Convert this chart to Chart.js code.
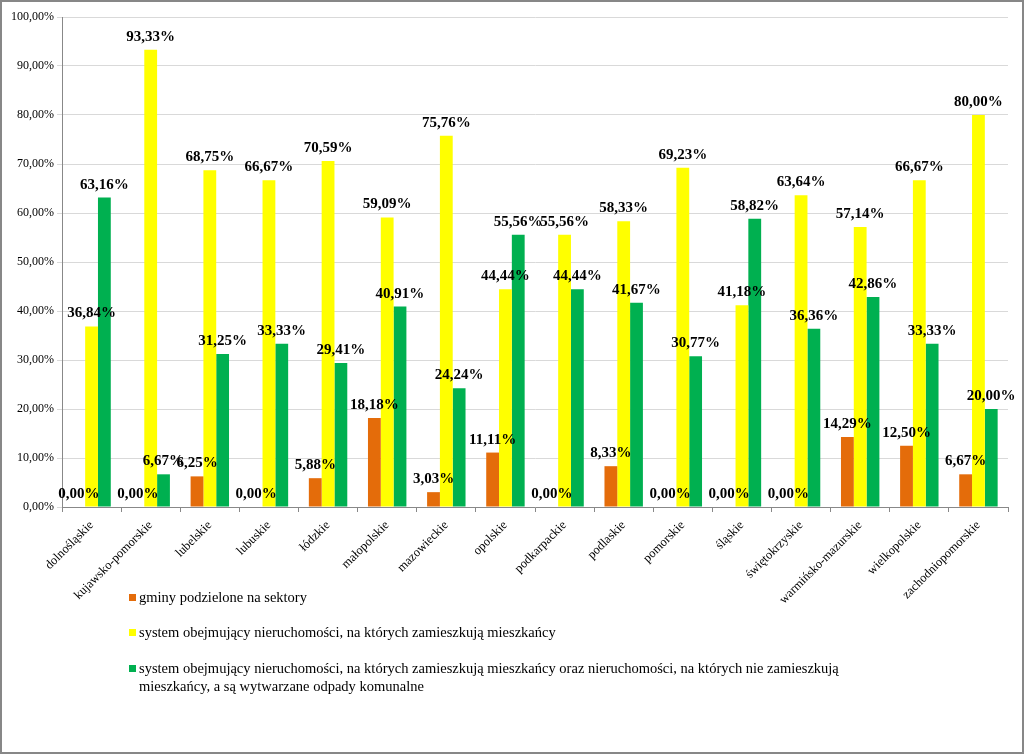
<!DOCTYPE html>
<html>
<head>
<meta charset="utf-8">
<script src="https://cdn.jsdelivr.net/npm/chart.js@4"></script>
<style>
  html, body { margin: 0; padding: 0; background: #fff; }
  #wrap { position: relative; width: 1024px; height: 754px; }
  canvas { position: absolute; left: 0; top: 0; }
  #legend { position: absolute; left: 129px; top: 0; width: 760px; font-family: "Liberation Serif", "Times New Roman", serif; font-size: 14.5px; color: #000; }
  .item { position: absolute; left: 0; width: 760px; line-height: 18px; }
  .mk { position: absolute; left: 0; width: 7px; height: 7px; top: 6px; }
  .tx { margin-left: 10px; width: 730px; }
</style>
</head>
<body>
<div id="wrap">
  <canvas id="c" width="1024" height="754"></canvas>
  <div id="legend"></div>
</div>
<script>
const categories = ["dolnośląskie","kujawsko-pomorskie","lubelskie","lubuskie","łódzkie","małopolskie","mazowieckie","opolskie","podkarpackie","podlaskie","pomorskie","śląskie","świętokrzyskie","warmińsko-mazurskie","wielkopolskie","zachodniopomorskie"];
const seriesNames = [
  "gminy podzielone na sektory",
  "system obejmujący nieruchomości, na których zamieszkują mieszkańcy",
  "system obejmujący nieruchomości, na których zamieszkują mieszkańcy oraz nieruchomości, na których nie zamieszkują mieszkańcy, a są wytwarzane odpady komunalne"
];
const sectors   = [0.00, 0.00, 6.25, 0.00, 5.88, 18.18, 3.03, 11.11, 0.00, 8.33, 0.00, 0.00, 0.00, 14.29, 12.50, 6.67];
const residents = [36.84, 93.33, 68.75, 66.67, 70.59, 59.09, 75.76, 44.44, 55.56, 58.33, 69.23, 41.18, 63.64, 57.14, 66.67, 80.00];
const mixed     = [63.16, 6.67, 31.25, 33.33, 29.41, 40.91, 24.24, 55.56, 44.44, 41.67, 30.77, 58.82, 36.36, 42.86, 33.33, 20.00];
const yTicks = [0, 10, 20, 30, 40, 50, 60, 70, 80, 90, 100];

const colors = ["#E46C0A", "#FFFF00", "#00B050"];
const fmt = v => v.toFixed(2).replace('.', ',') + '%';
const serif = '"Liberation Serif", "Times New Roman", serif';

const bgPlugin = {
  id: 'bg',
  beforeDraw(chart) {
    const ctx = chart.ctx;
    ctx.save();
    ctx.fillStyle = '#fff';
    ctx.fillRect(0, 0, chart.width, chart.height);
    ctx.restore();
  },
  afterDraw(chart) {
    const ctx = chart.ctx;
    ctx.save();
    ctx.strokeStyle = '#878787';
    ctx.lineWidth = 2;
    ctx.strokeRect(1, 1, chart.width - 2, chart.height - 2);
    ctx.restore();
  }
};

const labelPlugin = {
  id: 'vlabels',
  afterDatasetsDraw(chart) {
    const ctx = chart.ctx;
    ctx.save();
    ctx.font = 'bold 15px ' + serif;
    ctx.fillStyle = '#000';
    ctx.textAlign = 'center';
    ctx.textBaseline = 'alphabetic';
    chart.data.datasets.forEach((ds, i) => {
      const meta = chart.getDatasetMeta(i);
      meta.data.forEach((bar, j) => {
        ctx.fillText(fmt(ds.data[j]), bar.x, bar.y - 9);
      });
    });
    ctx.restore();
  }
};

const chart = new Chart(document.getElementById('c'), {
  type: 'bar',
  data: {
    labels: categories,
    datasets: [
      { label: seriesNames[0], data: sectors, backgroundColor: colors[0] },
      { label: seriesNames[1], data: residents, backgroundColor: colors[1] },
      { label: seriesNames[2], data: mixed, backgroundColor: colors[2] }
    ]
  },
  options: {
    responsive: false,
    animation: false,
    devicePixelRatio: 1,
    layout: { padding: { left: 0, right: 16, top: 17, bottom: 117 } },
    datasets: { bar: { categoryPercentage: 0.65, barPercentage: 1.0 } },
    plugins: { legend: { display: false }, tooltip: { enabled: false } },
    scales: {
      x: {
        grid: { offset: true, drawOnChartArea: false, drawTicks: true, tickLength: 5, color: '#888' },
        border: { color: '#888' },
        ticks: { autoSkip: false, minRotation: 45, maxRotation: 45, padding: 6, color: '#000', font: { family: serif, size: 12.5 } },
        afterFit(scale) { scale.height = 130; }
      },
      y: {
        min: 0, max: 100,
        afterBuildTicks(scale) { scale.ticks = yTicks.map(v => ({ value: v })); },
        grid: { color: '#d9d9d9', drawTicks: true, tickLength: 5 },
        border: { color: '#888' },
        ticks: { padding: 3, color: '#000', font: { family: serif, size: 12 }, callback: v => fmt(v) },
        afterFit(scale) { scale.width = 62; }
      }
    }
  },
  plugins: [bgPlugin, labelPlugin]
});

// HTML legend built from the chart's datasets
const legendTops = [588, 623, 659];
const lg = document.getElementById('legend');
chart.data.datasets.forEach((ds, i) => {
  const it = document.createElement('div');
  it.className = 'item';
  it.style.top = legendTops[i] + 'px';
  const mk = document.createElement('div');
  mk.className = 'mk';
  mk.style.background = ds.backgroundColor;
  const tx = document.createElement('div');
  tx.className = 'tx';
  tx.textContent = ds.label;
  it.appendChild(mk);
  it.appendChild(tx);
  lg.appendChild(it);
});
</script>
</body>
</html>
